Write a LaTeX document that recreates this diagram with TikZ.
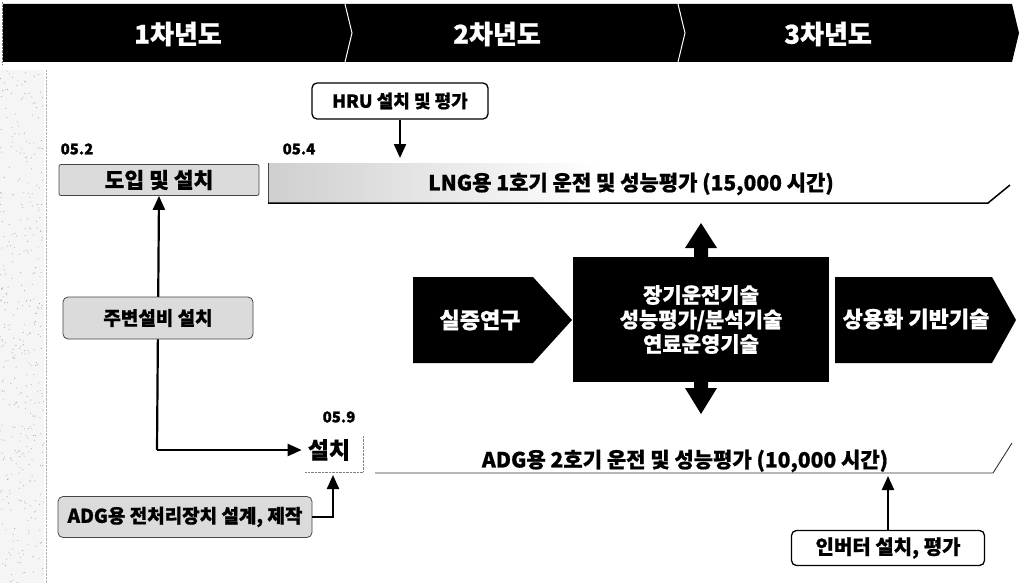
\documentclass[tikz,border=0pt]{standalone}
\usepackage{fontspec}
\setmainfont{Noto Sans CJK KR}[BoldFeatures={FakeBold=0.8}]
\usetikzlibrary{arrows.meta,calc}
\pgfdeclarelayer{bg}
\pgfsetlayers{bg,main}
\newcommand{\fs}[1]{\bfseries\fontsize{#1}{#1}\selectfont}
\tikzset{
  lbl/.style={inner sep=0pt, text=black},
  hdr/.style={inner sep=0pt, text=white, font=\fs{26}},
  datelbl/.style={inner sep=0pt, font=\fs{15}},
  barlbl/.style={inner sep=0pt, font=\fs{21}},
  graybox/.style={draw=gray!55!black, line width=0.8pt, fill=gray!28, inner sep=0pt},
  wbox/.style={draw=black, line width=1.3pt, fill=white, rounded corners=5pt, inner sep=0pt},
  arr/.style={line width=2.2pt, -{Triangle[length=14pt,width=12pt]}},
  darkshape/.style={fill=black},
}
\begin{document}
\begin{tikzpicture}[x=1pt,y=-1pt]
\useasboundingbox (0,0) rectangle (1019,583);
\begin{pgfonlayer}{bg}
\fill[white] (0,0) rectangle (1019,583);
\end{pgfonlayer}
% header band
\fill[black] (3,4) -- (1012,4) -- (1019,33) -- (1012,62) -- (3,62) -- cycle;
\draw[white, line width=1pt] (345,4) -- (352,33) -- (345,62);
\draw[white, line width=1pt] (678,4) -- (685,33) -- (678,62);
\draw[gray, densely dotted] (2,2) -- (2,64);
\node[hdr] (y1) at (178,34) {1차년도};
\node[hdr] (y2) at (497,34) {2차년도};
\node[hdr] (y3) at (828,34) {3차년도};
% left speckled strip
\fill[gray!8] (0,70) rectangle (44,583);
\pgfmathsetseed{3}
\foreach \i in {1,...,380}{
  \pgfmathsetmacro\xx{rnd*44}
  \pgfmathsetmacro\yy{70+rnd*513}
  \fill[gray!65] (\xx,\yy) circle (0.55);
}
\draw[gray!60, densely dotted] (46,70) -- (46,583);
% LNG bar
\fill[left color=gray!38, right color=white] (268,163) rectangle (600,203);
\draw[gray!55!black, line width=0.8pt] (268,203) -- (268,163);
\draw[black, line width=1.5pt] (268,203) -- (988,203) -- (1010,185);
\node[barlbl] (lng) at (631,184) {LNG용 1호기 운전 및 성능평가 (15,000 시간)};
% ADG bar
\draw[gray!40!black, line width=0.9pt] (375,473) -- (993,473) -- (1012,443);
\node[barlbl] (adgt) at (685,461) {ADG용 2호기 운전 및 성능평가 (10,000 시간)};
% dates
\node[datelbl] (d1) at (77,149) {05.2};
\node[datelbl] (d2) at (299,149) {05.4};
\node[datelbl] (d3) at (339,417) {05.9};
% left boxes
\node[graybox, rounded corners=2pt, minimum width=200pt, minimum height=31pt, font=\fs{21.5}] (doip) at (159,180) {도입 및 설치};
\node[graybox, rounded corners=5pt, minimum width=190pt, minimum height=42pt, font=\fs{19}] (jub) at (158,318) {주변설비 설치};
\node[graybox, rounded corners=5pt, minimum width=254pt, minimum height=41pt, font=\fs{19}] (adgb) at (185,517) {ADG용 전처리장치 설계, 제작};
\node[lbl, font=\fs{23}] (sc) at (329,450) {설치};
\draw[gray, densely dotted] (305,472) -- (363,472) -- (363,435);
\coordinate (corner) at (157,450);
\coordinate (scb) at (333,475);
\begin{pgfonlayer}{bg}
\draw[arr] (corner) -- (doip.south);
\draw[arr, shorten >=6pt] (corner) -- (sc.west);
\end{pgfonlayer}
\draw[arr] (adgb.east) -| (scb);
% white callouts
\node[wbox, minimum width=176pt, minimum height=36pt, font=\fs{18}] (hru) at (400,101) {HRU 설치 및 평가};
\coordinate (lngtop) at (400,158);
\draw[arr] (hru) -- (lngtop);
\node[wbox, minimum width=193pt, minimum height=35pt, font=\fs{20}] (inv) at (888,548) {인버터 설치, 평가};
\coordinate (adgpt) at (888,476);
\draw[arr] (inv) -- (adgpt);
% center flow
\fill[darkshape] (413,277) -- (533,277) -- (572,320) -- (533,363) -- (413,363) -- cycle;
\node[lbl, text=white, font=\fs{22}] (sj) at (480,320) {실증연구};
\node[fill=black, minimum width=256pt, minimum height=125pt, inner sep=0pt, text=white, align=center, font=\bfseries\fontsize{21}{24.5}\selectfont] (core) at (701,319.5) {장기운전기술\\성능평가/분석기술\\연료운영기술};
\fill[darkshape] (835,277) -- (992,277) -- (1016,320) -- (992,363) -- (835,363) -- cycle;
\node[lbl, text=white, font=\fs{22}] (sy) at (916,319) {상용화 기반기술};
% double arrow
\fill[darkshape] (701,223) -- (717,248) -- (708,248) -- (708,258) -- (694,258) -- (694,248) -- (685,248) -- cycle;
\fill[darkshape] (694,381) -- (708,381) -- (708,388) -- (717,388) -- (701,414) -- (685,388) -- (694,388) -- cycle;
\end{tikzpicture}
\end{document}
